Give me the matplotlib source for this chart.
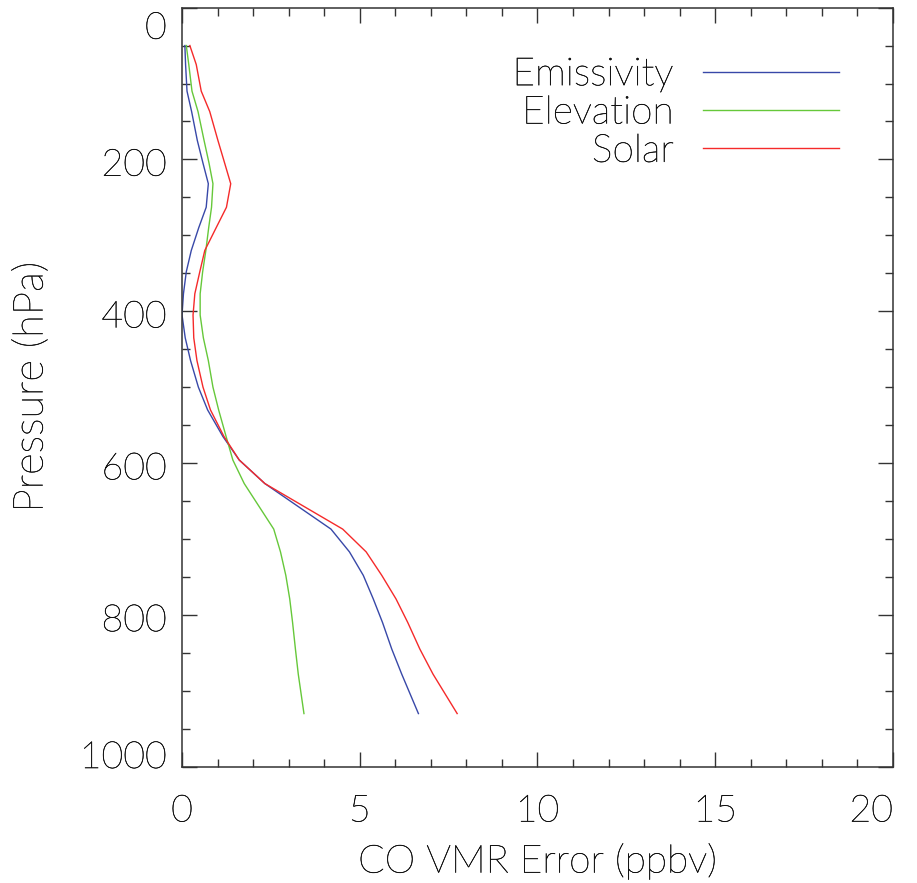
import numpy as np
import matplotlib
matplotlib.use('Agg')
import matplotlib.pyplot as plt
import matplotlib.transforms as mtransforms
import matplotlib.patheffects as pe
from matplotlib.ticker import MultipleLocator

plt.rcParams['font.family'] = ['Lato', 'DejaVu Sans']
plt.rcParams['font.weight'] = 'light'
plt.rcParams['axes.labelweight'] = 'light'

# pressure levels (hPa) shared by all three error profiles
pressure = [50, 75, 110, 137, 175, 205, 232, 263, 290, 320, 348, 377, 405, 435,
            465, 500, 530, 565, 596, 627, 687, 717, 748, 779, 810, 845, 878, 930]

emissivity = [0.08, 0.10, 0.14, 0.27, 0.43, 0.59, 0.74, 0.68, 0.47, 0.26, 0.12,
              0.04, 0.00, 0.09, 0.24, 0.46, 0.72, 1.15, 1.61, 2.33, 4.19, 4.71,
              5.10, 5.38, 5.64, 5.90, 6.18, 6.65]
elevation = [0.12, 0.19, 0.28, 0.45, 0.62, 0.76, 0.87, 0.83, 0.75, 0.67, 0.58,
             0.51, 0.51, 0.60, 0.74, 0.87, 1.03, 1.24, 1.43, 1.75, 2.58, 2.77,
             2.92, 3.03, 3.11, 3.19, 3.27, 3.43]
solar = [0.22, 0.40, 0.54, 0.78, 1.01, 1.20, 1.37, 1.25, 0.96, 0.64, 0.50,
         0.36, 0.31, 0.33, 0.42, 0.59, 0.80, 1.18, 1.61, 2.33, 4.52, 5.18,
         5.62, 6.02, 6.35, 6.69, 7.06, 7.74]

names = ['Emissivity', 'Elevation', 'Solar']
colors = ['#3848a8', '#66c83a', '#f52a2a']

fs = 27
ink = '#111111'
thick = [pe.withStroke(linewidth=0.35, foreground=ink)]

fig = plt.figure(figsize=(9.17, 8.83), dpi=100)
ax = fig.add_axes([0.1985, 0.1317, 0.7753, 0.8597])

for prof, name, c in zip([emissivity, elevation, solar], names, colors):
    ax.plot(prof, pressure, '-', color=c, linewidth=1.0, label=name)

ax.set_xlim(0, 20)
ax.set_ylim(1000, 0)
ax.xaxis.set_major_locator(MultipleLocator(5))
ax.xaxis.set_minor_locator(MultipleLocator(1))
ax.yaxis.set_major_locator(MultipleLocator(200))
ax.yaxis.set_minor_locator(MultipleLocator(50))

for s in ax.spines.values():
    s.set_linewidth(1.1)
    s.set_color('#333333')
ax.tick_params(which='both', direction='in', top=True, right=True,
               color='#333333', width=1.0, labelsize=fs, labelcolor=ink)
ax.tick_params(which='major', length=11)
ax.tick_params(which='minor', length=5.5)
ax.tick_params(axis='x', pad=20)
ax.tick_params(axis='y', pad=11)

xl = ax.set_xlabel('CO VMR Error (ppbv)', fontsize=28, color=ink, labelpad=10)
yl = ax.set_ylabel('Pressure (hPa)', fontsize=30, color=ink, labelpad=21)
xl.set_path_effects(thick)
yl.set_path_effects(thick)

# keep the end labels of the pressure axis inside the frame
fig.canvas.draw()
dpi_tr = fig.dpi_scale_trans
for tick in ax.yaxis.get_major_ticks():
    lab = tick.label1
    lab.set_path_effects(thick)
    if lab.get_text() == '0':
        lab.set_va('top')
        lab.set_transform(lab.get_transform() + mtransforms.ScaledTranslation(0, -3 / 72, dpi_tr))
    elif lab.get_text() == '1000':
        lab.set_va('bottom')
        lab.set_transform(lab.get_transform() + mtransforms.ScaledTranslation(0, -6 / 72, dpi_tr))
    else:
        lab.set_transform(lab.get_transform() + mtransforms.ScaledTranslation(0, -2 / 72, dpi_tr))
for tick in ax.xaxis.get_major_ticks():
    tick.label1.set_path_effects(thick)
    if tick.label1.get_text() == '20':
        tick.label1.set_ha('right')

leg = ax.legend(loc='upper right', bbox_to_anchor=(0.924, 0.936),
                markerfirst=False, frameon=False, fontsize=28,
                handlelength=3.5, handletextpad=0.75, labelspacing=0.06,
                borderpad=0, borderaxespad=0)
for t in leg.get_texts():
    t.set_color(ink)
    t.set_ha('right')
    t.set_path_effects(thick)

plt.savefig('out.png', dpi=100)
plt.close()
